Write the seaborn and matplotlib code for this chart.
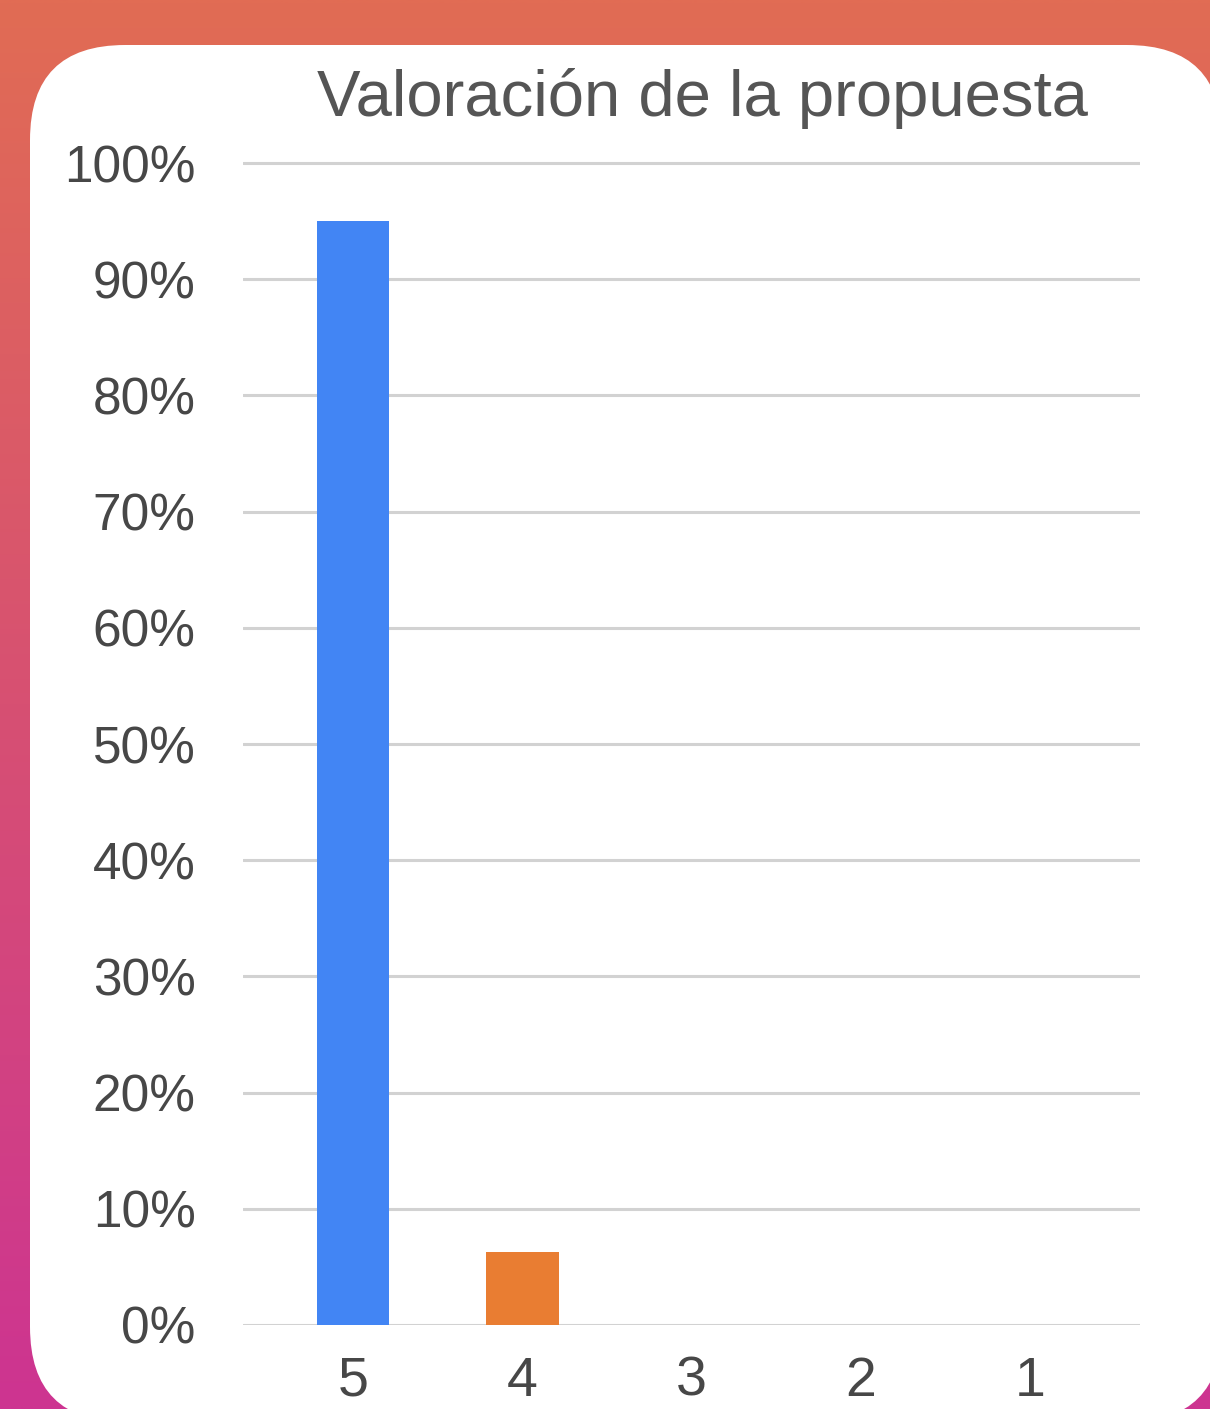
import numpy as np
import pandas as pd
import matplotlib
matplotlib.use("Agg")
import matplotlib.pyplot as plt
from matplotlib.patches import FancyBboxPatch
import seaborn as sns

# ---- data ----
categories = ["5", "4", "3", "2", "1"]
percentages = [95.0, 6.3, 0.0, 0.0, 0.0]
bar_colors = ["#4285F4", "#E97D32", "#4285F4", "#4285F4", "#4285F4"]
y_ticks = [0, 10, 20, 30, 40, 50, 60, 70, 80, 90, 100]
y_tick_labels = [f"{t}%" for t in y_ticks]
title = "Valoración de la propuesta"

sns.set_theme(style="white")
plt.rcParams["font.family"] = ["Liberation Sans", "DejaVu Sans"]

W, H = 1210, 1409
fig = plt.figure(figsize=(W / 100, H / 100), dpi=100)

# ---- background gradient + white card ----
bg = fig.add_axes([0, 0, 1, 1], zorder=0)
top = np.array([225, 108, 84]) / 255
bot = np.array([205, 52, 145]) / 255
t = np.linspace(0, 1, 256)[:, None]
grad = (top[None, :] * (1 - t) + bot[None, :] * t)[:, None, :]
grad = np.repeat(grad, 2, axis=1)
bg.imshow(grad, extent=[0, W, H, 0], aspect="auto", interpolation="bilinear")
card = FancyBboxPatch((30, 45), 1222 - 30, 1422 - 45,
                      boxstyle="round,pad=0,rounding_size=95",
                      facecolor="white", edgecolor="none")
bg.add_patch(card)
bg.set_xlim(0, W)
bg.set_ylim(H, 0)
bg.axis("off")

# ---- chart ----
ax = fig.add_axes([243 / W, 1 - 1325 / H, (1140 - 243) / W, (1325 - 151.4) / H], zorder=1)
ax.set_facecolor("none")
df = pd.DataFrame({"rating": categories, "pct": percentages})
sns.barplot(data=df, x="rating", y="pct", hue="rating", order=categories,
            hue_order=categories, palette=bar_colors, legend=False,
            saturation=1, width=0.43, ax=ax, zorder=3, linewidth=0)

ax.set_ylim(0, 101)
ax.set_xlim(-0.65, 4.65)
ax.set_yticks(y_ticks)
ax.set_yticklabels(y_tick_labels)
ax.yaxis.grid(True, color="#d2d2d2", linewidth=2.2, zorder=0)
ax.set_axisbelow(True)
for s in ax.spines.values():
    s.set_visible(False)
ax.tick_params(axis="y", length=0, pad=34, labelsize=37, labelcolor="#474747")
ax.tick_params(axis="x", length=0, pad=22, labelsize=40, labelcolor="#474747")
ax.set_xlabel("")
ax.set_ylabel("")

fig.text(702 / W, 1 - 116 / H, title, ha="center", va="baseline",
         fontsize=47, color="#555555")

fig.savefig("out.png", dpi=100)
